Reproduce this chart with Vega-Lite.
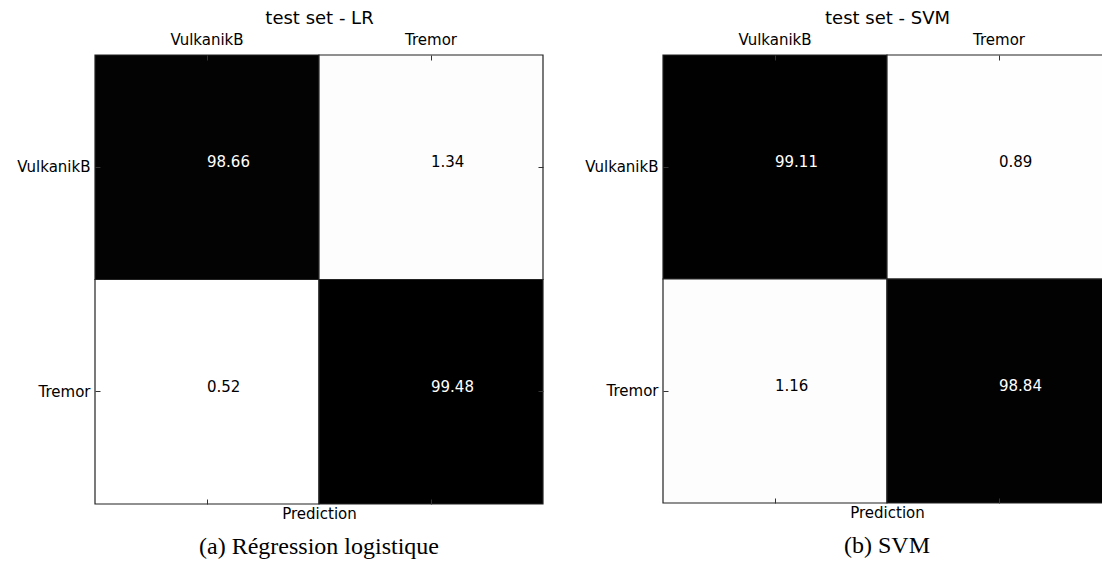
{
  "$schema": "https://vega.github.io/schema/vega-lite/v6.json",
  "padding": {"left": 16, "top": 9, "right": 0, "bottom": 0},
  "background": "white",
  "data": {"values": [
    {"panel": "LR", "actual": "VulkanikB", "predicted": "VulkanikB", "value": 98.66},
    {"panel": "LR", "actual": "VulkanikB", "predicted": "Tremor", "value": 1.34},
    {"panel": "LR", "actual": "Tremor", "predicted": "VulkanikB", "value": 0.52},
    {"panel": "LR", "actual": "Tremor", "predicted": "Tremor", "value": 99.48},
    {"panel": "SVM", "actual": "VulkanikB", "predicted": "VulkanikB", "value": 99.11},
    {"panel": "SVM", "actual": "VulkanikB", "predicted": "Tremor", "value": 0.89},
    {"panel": "SVM", "actual": "Tremor", "predicted": "VulkanikB", "value": 1.16},
    {"panel": "SVM", "actual": "Tremor", "predicted": "Tremor", "value": 98.84}
  ]},
  "config": {
    "font": "DejaVu Sans",
    "view": {"stroke": null},
    "axis": {
      "domain": false, "grid": false, "ticks": true, "tickSize": 5, "offset": -5, "tickColor": "#333", "tickWidth": 1,
      "labelPadding": 5, "labelFontSize": 15, "labelColor": "black", "labelAngle": 0,
      "titleFontWeight": "normal", "titleColor": "black"
    },
    "title": {"font": "Liberation Serif", "fontSize": 24, "fontWeight": "normal", "color": "black", "offset": 13}
  },
  "spacing": 40,
  "hconcat": [
    {
      "width": 448, "height": 449,
      "title": {"text": "(a) Régression logistique", "orient": "bottom"},
      "transform": [{"filter": "datum.panel == 'LR'"}],
      "layer": [
        {
          "mark": {"type": "rect", "stroke": "#222", "strokeWidth": 1.2},
          "encoding": {
            "x": {"field": "predicted", "type": "nominal", "sort": ["VulkanikB", "Tremor"],
                  "scale": {"type": "band", "paddingInner": 0, "paddingOuter": 0},
                  "axis": {"orient": "top", "title": "test set - LR", "titleFontSize": 18, "titlePadding": 5, "labelPadding": 8, "zindex": 1}},
            "y": {"field": "actual", "type": "nominal", "sort": ["VulkanikB", "Tremor"],
                  "scale": {"type": "band", "paddingInner": 0, "paddingOuter": 0},
                  "axis": {"orient": "left", "title": null, "zindex": 1}},
            "color": {"field": "value", "type": "quantitative", "scale": {"domain": [0.52, 99.48], "range": ["white", "black"]}, "legend": null}
          }
        },
        {
          "mark": {"type": "text", "fontSize": 15, "align": "left", "baseline": "alphabetic"},
          "encoding": {
            "x": {"field": "predicted", "type": "nominal", "sort": ["VulkanikB", "Tremor"],
                  "scale": {"type": "band", "paddingInner": 0, "paddingOuter": 0},
                  "axis": {"orient": "bottom", "title": "Prediction", "labels": false, "titleFontSize": 15, "titlePadding": 2, "zindex": 1}},
            "y": {"field": "actual", "type": "nominal", "sort": ["VulkanikB", "Tremor"],
                  "scale": {"type": "band", "paddingInner": 0, "paddingOuter": 0},
                  "axis": {"orient": "right", "title": null, "labels": false, "zindex": 1}},
            "text": {"field": "value", "type": "quantitative", "format": ".2f"},
            "color": {"condition": {"test": "datum.value > 50", "value": "white"}, "value": "black"}
          }
        }
      ],
      "resolve": {"axis": {"x": "independent", "y": "independent"}}
    },
    {
      "width": 448, "height": 448,
      "title": {"text": "(b) SVM", "orient": "bottom"},
      "transform": [{"filter": "datum.panel == 'SVM'"}],
      "layer": [
        {
          "mark": {"type": "rect", "stroke": "#222", "strokeWidth": 1.2},
          "encoding": {
            "x": {"field": "predicted", "type": "nominal", "sort": ["VulkanikB", "Tremor"],
                  "scale": {"type": "band", "paddingInner": 0, "paddingOuter": 0},
                  "axis": {"orient": "top", "title": "test set - SVM", "titleFontSize": 18, "titlePadding": 5, "labelPadding": 8, "zindex": 1}},
            "y": {"field": "actual", "type": "nominal", "sort": ["VulkanikB", "Tremor"],
                  "scale": {"type": "band", "paddingInner": 0, "paddingOuter": 0},
                  "axis": {"orient": "left", "title": null, "zindex": 1}},
            "color": {"field": "value", "type": "quantitative", "scale": {"domain": [0.89, 99.11], "range": ["white", "black"]}, "legend": null}
          }
        },
        {
          "mark": {"type": "text", "fontSize": 15, "align": "left", "baseline": "alphabetic"},
          "encoding": {
            "x": {"field": "predicted", "type": "nominal", "sort": ["VulkanikB", "Tremor"],
                  "scale": {"type": "band", "paddingInner": 0, "paddingOuter": 0},
                  "axis": {"orient": "bottom", "title": "Prediction", "labels": false, "titleFontSize": 15, "titlePadding": 2, "zindex": 1}},
            "y": {"field": "actual", "type": "nominal", "sort": ["VulkanikB", "Tremor"],
                  "scale": {"type": "band", "paddingInner": 0, "paddingOuter": 0},
                  "axis": {"orient": "right", "title": null, "labels": false, "zindex": 1}},
            "text": {"field": "value", "type": "quantitative", "format": ".2f"},
            "color": {"condition": {"test": "datum.value > 50", "value": "white"}, "value": "black"}
          }
        }
      ],
      "resolve": {"axis": {"x": "independent", "y": "independent"}}
    }
  ]
}
